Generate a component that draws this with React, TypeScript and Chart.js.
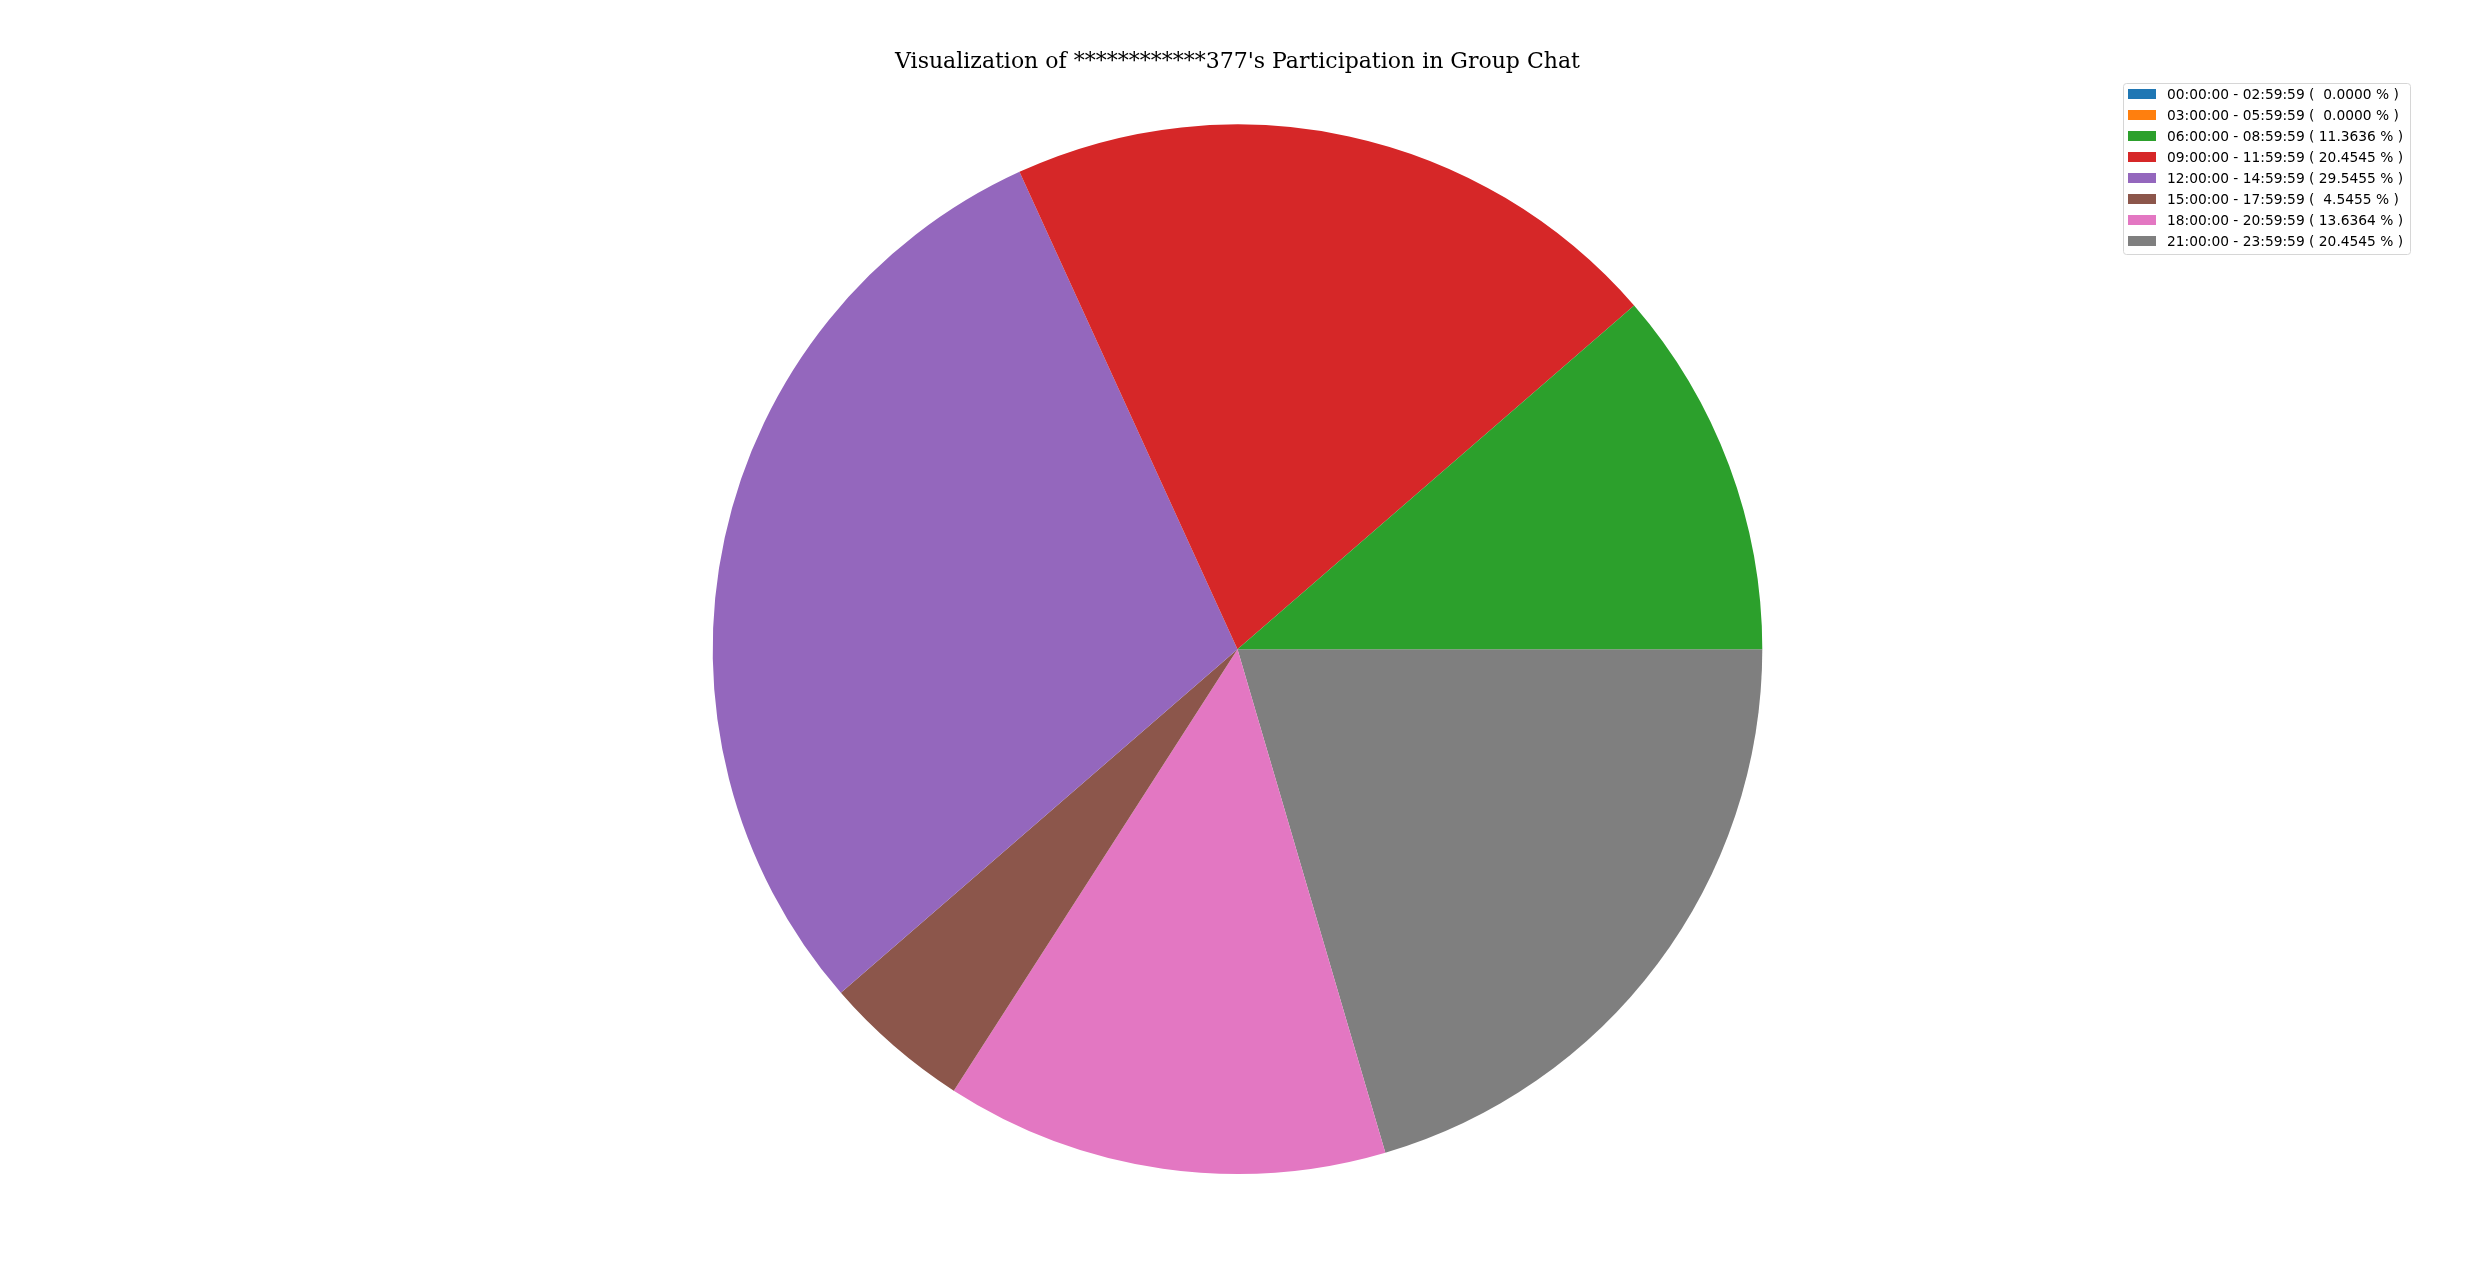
import React, { useEffect, useRef } from 'react';
import { Chart, registerables, Plugin } from 'chart.js';

Chart.register(...registerables);

// time slots of the day, in legend order
const timeRanges = [
  '00:00:00 - 02:59:59',
  '03:00:00 - 05:59:59',
  '06:00:00 - 08:59:59',
  '09:00:00 - 11:59:59',
  '12:00:00 - 14:59:59',
  '15:00:00 - 17:59:59',
  '18:00:00 - 20:59:59',
  '21:00:00 - 23:59:59',
];

// messages sent in each slot
const messageCounts = [0, 0, 5, 9, 13, 2, 6, 9];

const sliceColors = [
  '#1f77b4',
  '#ff7f0e',
  '#2ca02c',
  '#d62728',
  '#9467bd',
  '#8c564b',
  '#e377c2',
  '#7f7f7f',
];

const titleText = "Visualization of ************377's Participation in Group Chat";

const total = messageCounts.reduce((a, b) => a + b, 0);
const legendLabels = timeRanges.map((r, i) => {
  const pct = ((messageCounts[i] / total) * 100).toFixed(4).padStart(7, ' ');
  return `${r} ( ${pct} % )`;
});

// matplotlib-like legend box in the upper right corner
const boxLegend: Plugin<'pie'> = {
  id: 'boxLegend',
  afterDraw(chart) {
    const ctx = chart.ctx;
    const x = 2123.5;
    const y = 83.5;
    const w = 287;
    const h = 171;
    ctx.save();
    ctx.beginPath();
    ctx.roundRect(x, y, w, h, 3);
    ctx.fillStyle = 'rgba(255,255,255,0.8)';
    ctx.fill();
    ctx.strokeStyle = '#d6d6d6';
    ctx.lineWidth = 1;
    ctx.stroke();
    ctx.font = '13.8px "DejaVu Sans"';
    ctx.textBaseline = 'middle';
    legendLabels.forEach((label, i) => {
      const cy = 94 + i * 21;
      ctx.fillStyle = sliceColors[i];
      ctx.fillRect(2128, cy - 5, 28, 10);
      ctx.fillStyle = '#000';
      ctx.fillText(label, 2167, cy + 1);
    });
    ctx.restore();
  },
};

const ParticipationPie: React.FC = () => {
  const chartRef = useRef<HTMLCanvasElement>(null);
  const chartInstance = useRef<Chart | null>(null);

  useEffect(() => {
    if (!chartRef.current) return;
    const ctx = chartRef.current.getContext('2d');
    if (!ctx) return;

    if (chartInstance.current) {
      chartInstance.current.destroy();
    }

    // chart.js goes clockwise, matplotlib counter-clockwise: feed reversed
    const order = timeRanges.map((_, i) => timeRanges.length - 1 - i);

    chartInstance.current = new Chart(ctx, {
      type: 'pie',
      data: {
        labels: order.map(i => timeRanges[i]),
        datasets: [{
          data: order.map(i => messageCounts[i]),
          backgroundColor: order.map(i => sliceColors[i]),
          borderWidth: 0,
        }]
      },
      options: {
        animation: false,
        responsive: false,
        devicePixelRatio: 1,
        rotation: 90,
        layout: {
          padding: { left: 5, right: 0, top: 0, bottom: 96 }
        },
        plugins: {
          legend: { display: false },
          tooltip: { enabled: false },
          title: {
            display: true,
            text: titleText,
            color: '#000',
            font: { family: '"DejaVu Serif"', size: 22, weight: 'normal', lineHeight: 1.2 },
            padding: { top: 49, bottom: 49 }
          }
        }
      },
      plugins: [boxLegend]
    });

    return () => {
      if (chartInstance.current) {
        chartInstance.current.destroy();
        chartInstance.current = null;
      }
    };
  }, []);

  return (
    <div style={{ position: 'fixed', left: 0, top: 0, width: 2470, height: 1270, background: '#fff' }}>
      <canvas ref={chartRef} width={2470} height={1270} />
    </div>
  );
};

export default function App() {
  return <ParticipationPie />;
}
